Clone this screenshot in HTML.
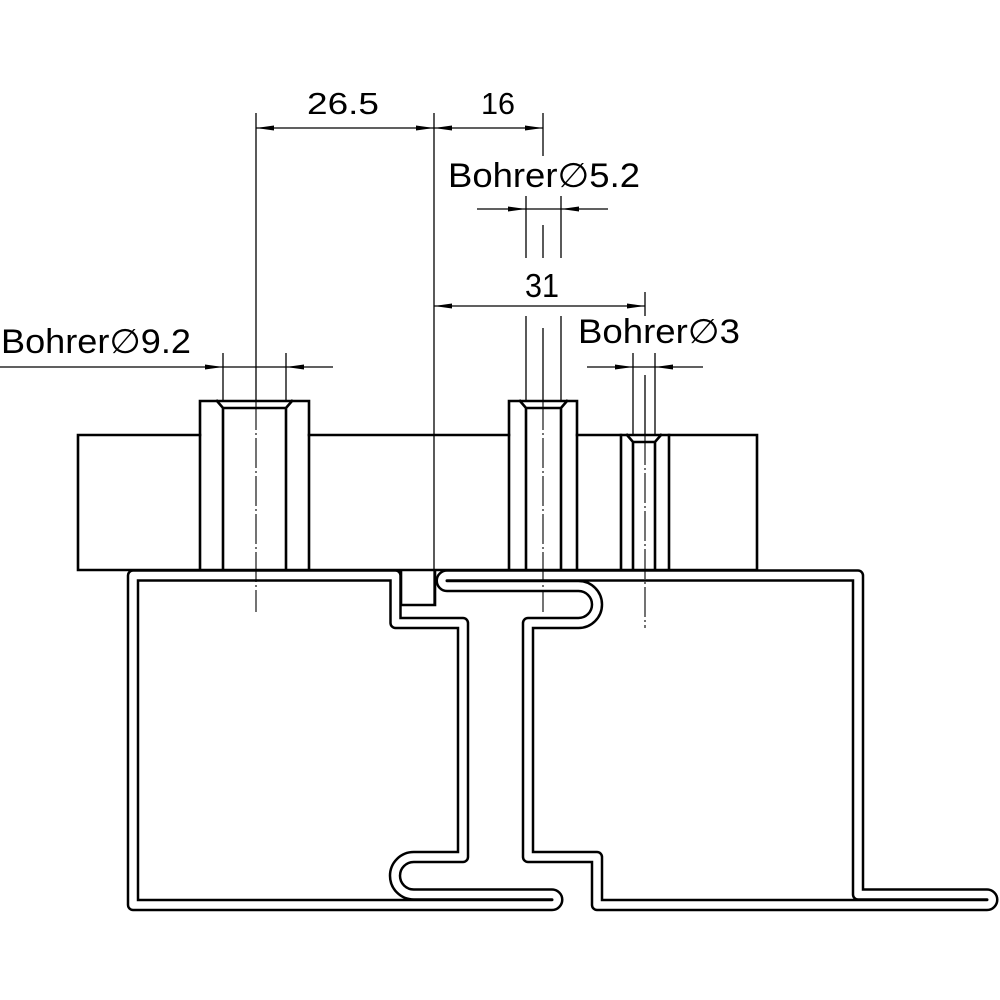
<!DOCTYPE html>
<html><head><meta charset="utf-8"><style>
html,body{margin:0;padding:0;background:#fff;}
svg{display:block;}
text{font-family:"Liberation Sans",sans-serif;fill:#000;}
tspan.d{font-family:"DejaVu Sans",sans-serif;}
</style></head><body>
<svg width="1000" height="1000" viewBox="0 0 1000 1000" xmlns="http://www.w3.org/2000/svg">
<defs>
<marker id="a" viewBox="0 0 18 6" refX="18" refY="3" markerWidth="18" markerHeight="6" markerUnits="userSpaceOnUse" orient="auto-start-reverse">
<path d="M0,0.5 L18,3 L0,5.5 Z" fill="#000"/>
</marker>
</defs>
<rect width="1000" height="1000" fill="#fff"/>

<g stroke="#000" stroke-width="2.6" fill="none" stroke-linecap="square">
<path d="M200,435 H78 V570 H757 V435 H577"/>
<path d="M309,435 H509"/>
<path d="M200,570 V401 H309 V570"/>
<path d="M223,570 V408 M286,570 V408 M217,401 L223,408 H286 L292,401"/>
<path d="M509,570 V401 H577 V570"/>
<path d="M526,570 V408 M561,570 V408 M520,401 L526,408 H561 L567,401"/>
<path d="M621,435 V570 M669,435 V570"/>
<path d="M633,570 V442 M655,570 V442 M627,435 L633,442 H655 L661,435"/>
</g>

<g fill="none" stroke-linejoin="round" stroke-linecap="butt">
<path d="M133,575.5 H395.5 V623 H463 V857 H413.75 A18.75,18.75 0 0 0 413.75,894.5 H552 A5.25,5.25 0 0 1 552,905 H133 Z" stroke="#000" stroke-width="12.5"/>
<path d="M447,575.5 H858 V894.5 H987 A5.25,5.25 0 0 1 987,905 H597 V857 H528 V623 H578.5 A18.5,18.5 0 0 0 578.5,586 H447 A5.25,5.25 0 0 1 447,575.5 Z" stroke="#000" stroke-width="12.5"/>
<path d="M133,575.5 H395.5 V623 H463 V857 H413.75 A18.75,18.75 0 0 0 413.75,894.5 H552 A5.25,5.25 0 0 1 552,905 H133 Z" stroke="#fff" stroke-width="7.5"/>
<path d="M447,575.5 H858 V894.5 H987 A5.25,5.25 0 0 1 987,905 H597 V857 H528 V623 H578.5 A18.5,18.5 0 0 0 578.5,586 H447 A5.25,5.25 0 0 1 447,575.5 Z" stroke="#fff" stroke-width="7.5"/>
</g>
<g stroke="#000" stroke-width="2.6" fill="none">
<path d="M401,570 V605 H435 V570"/>
</g>

<g stroke="#000" stroke-width="1.3" fill="none">
<path d="M256,113 V400"/>
<path d="M434,113 V605"/>
<path d="M543,113 V156"/>
<path d="M526,196 V258 M561,196 V258 M543,225 V258"/>
<path d="M526,316 V400 M561,316 V400 M543,328 V400"/>
<path d="M645,292 V316"/>
<path d="M633,353 V435 M655,353 V435 M645,375 V435"/>
<path d="M223,353 V400 M286,353 V400"/>
<path d="M256,128 H434" marker-start="url(#a)" marker-end="url(#a)"/>
<path d="M434,128 H543" marker-start="url(#a)" marker-end="url(#a)"/>
<path d="M434,306 H645" marker-start="url(#a)" marker-end="url(#a)"/>
<path d="M477,209 H526" marker-end="url(#a)"/>
<path d="M526,209 H561"/>
<path d="M608,209 H561" marker-end="url(#a)"/>
<path d="M587,367 H633" marker-end="url(#a)"/>
<path d="M633,367 H655"/>
<path d="M703,367 H655" marker-end="url(#a)"/>
<path d="M0,367 H223" marker-end="url(#a)"/>
<path d="M223,367 H286"/>
<path d="M333,367 H286" marker-end="url(#a)"/>
</g>
<g stroke="#000" stroke-width="1.1" fill="none" stroke-dasharray="30 3 2 3">
<path d="M256,400 V612"/>
<path d="M543,400 V612"/>
<path d="M645,435 V628"/>
</g>

<text x="343" y="114" font-size="31" text-anchor="middle" textLength="72" lengthAdjust="spacingAndGlyphs">26.5</text>
<text x="498" y="114" font-size="31" text-anchor="middle" textLength="34" lengthAdjust="spacingAndGlyphs">16</text>
<text x="448" y="187" font-size="34" textLength="192" lengthAdjust="spacingAndGlyphs">Bohrer<tspan class="d">∅</tspan>5.2</text>
<text x="542" y="297" font-size="33" text-anchor="middle" textLength="34" lengthAdjust="spacingAndGlyphs">31</text>
<text x="578" y="343" font-size="34" textLength="162" lengthAdjust="spacingAndGlyphs">Bohrer<tspan class="d">∅</tspan>3</text>
<text x="1" y="353" font-size="34" textLength="190" lengthAdjust="spacingAndGlyphs">Bohrer<tspan class="d">∅</tspan>9.2</text>
</svg>
</body></html>
